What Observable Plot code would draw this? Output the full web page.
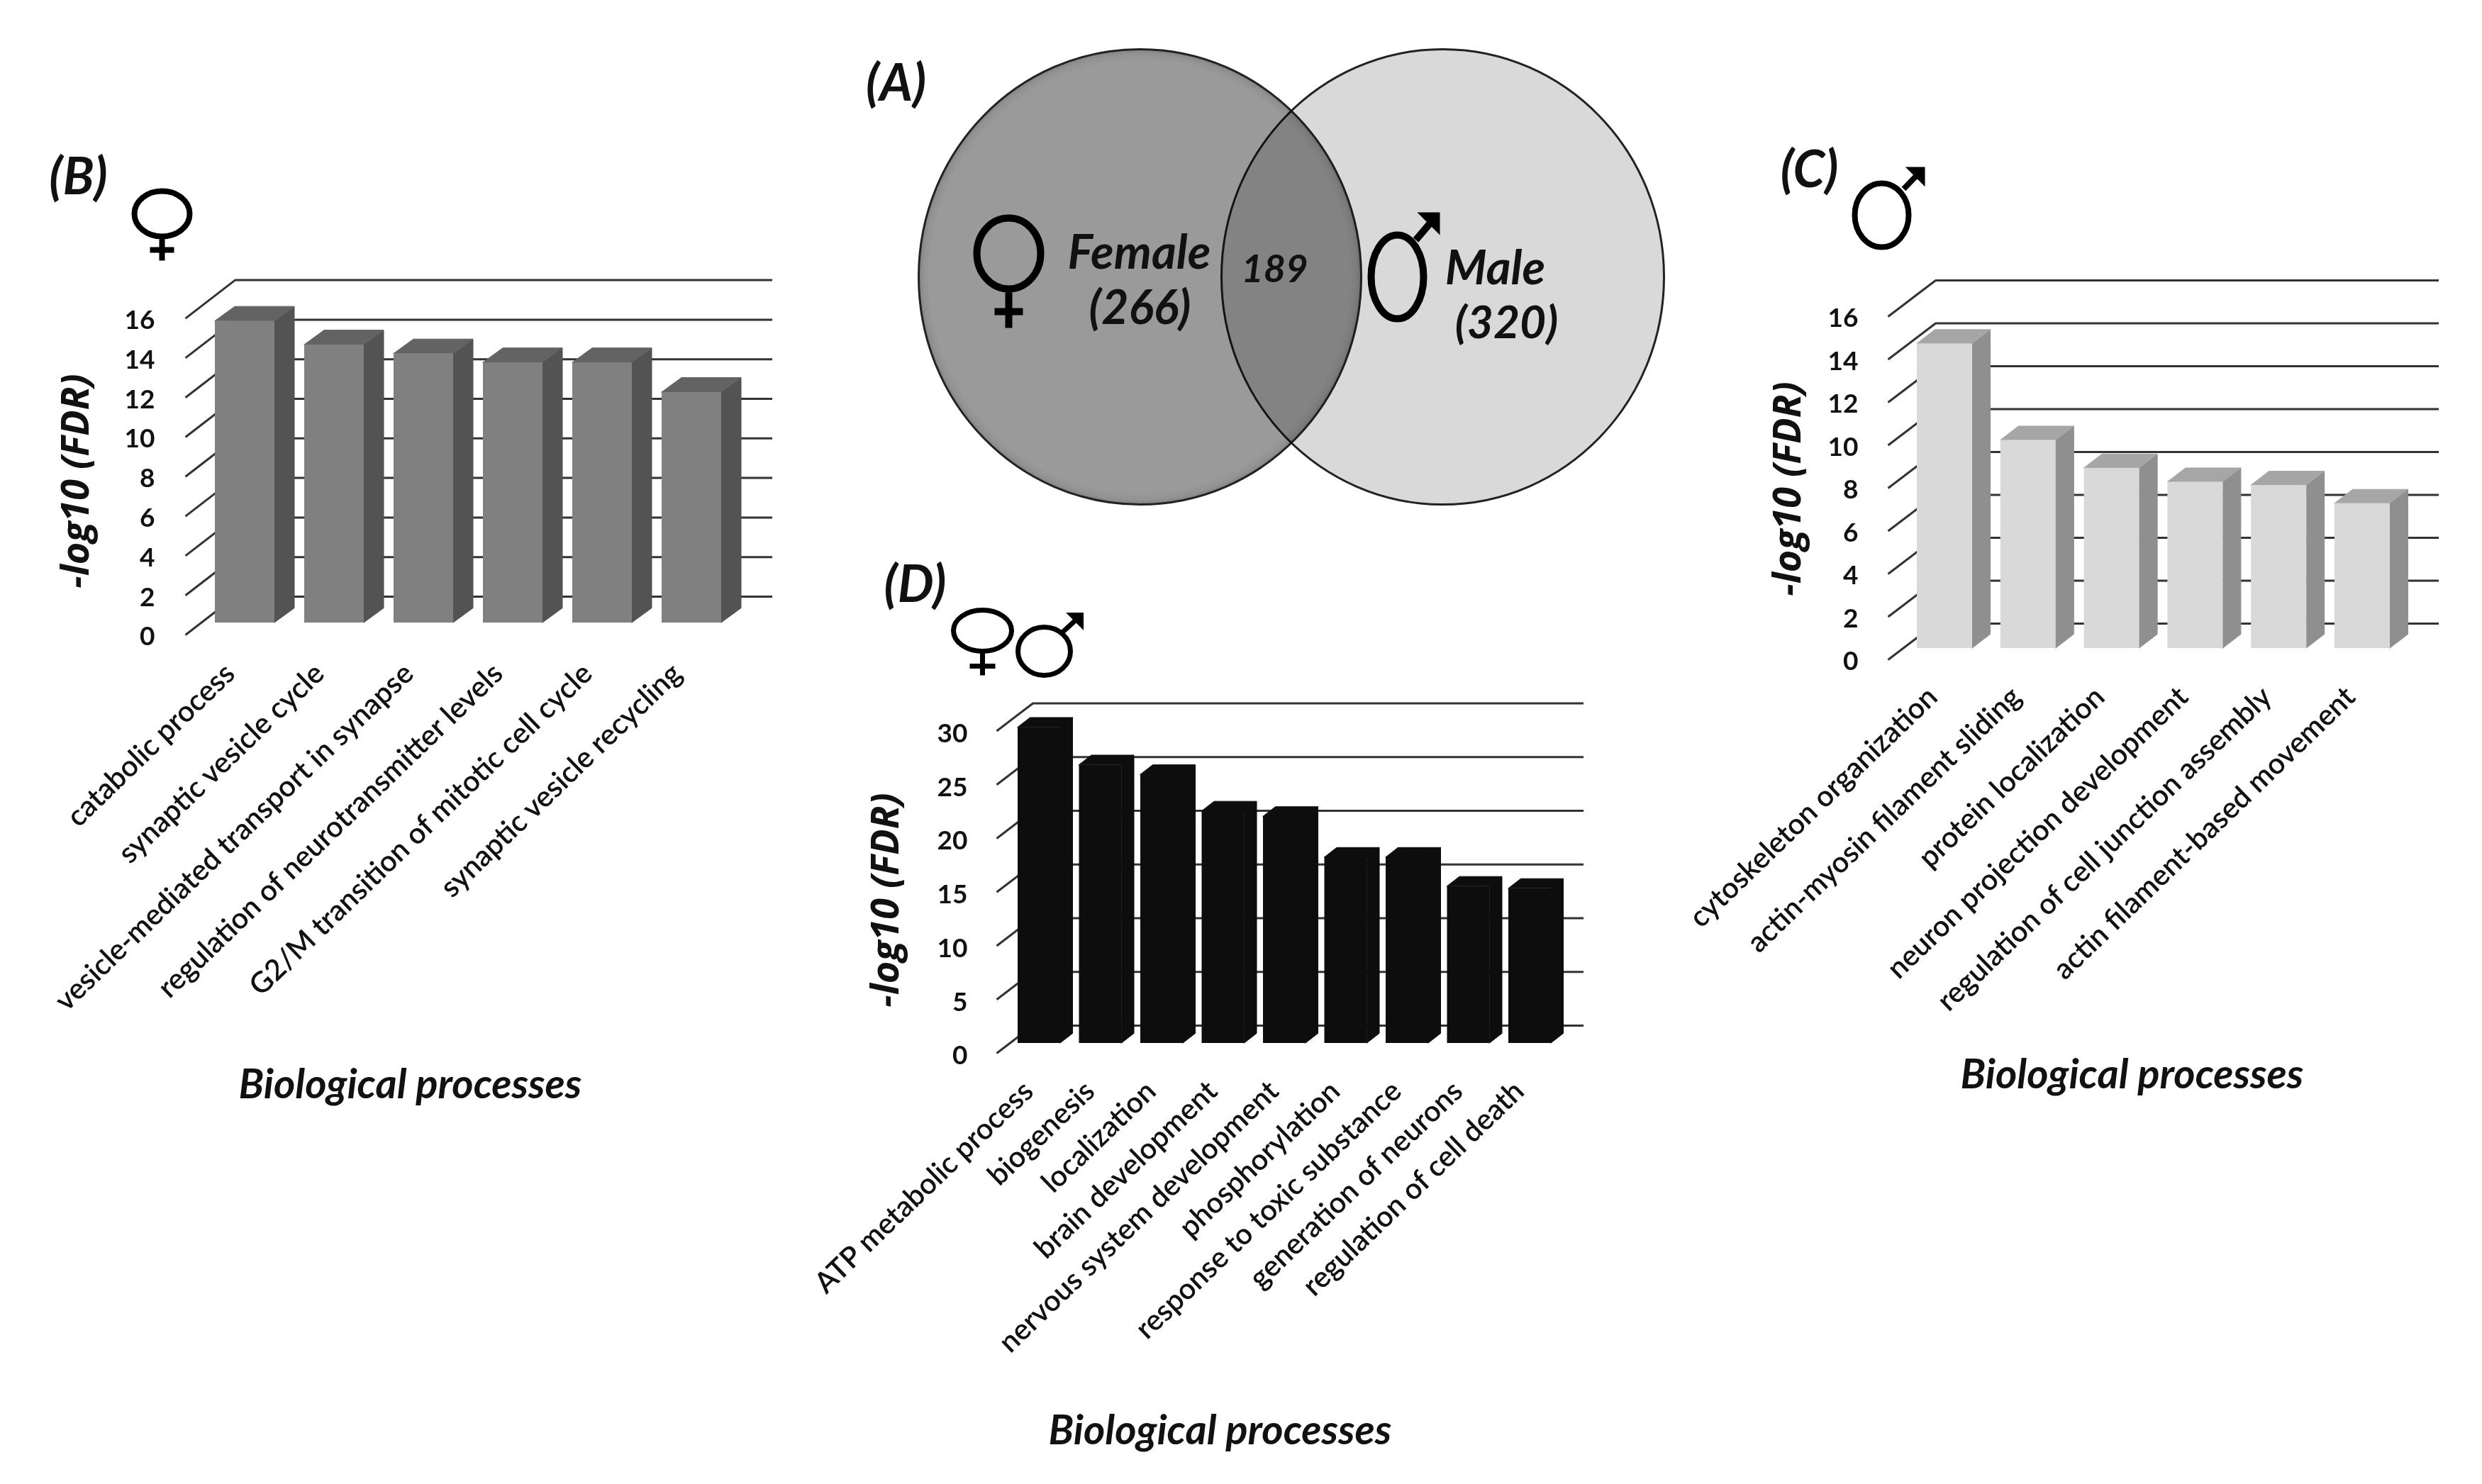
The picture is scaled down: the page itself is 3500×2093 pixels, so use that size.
<!DOCTYPE html>
<html>
<head>
<meta charset="utf-8">
<script src="https://cdn.jsdelivr.net/npm/d3@7"></script>
<script src="https://cdn.jsdelivr.net/npm/@observablehq/plot@0.6"></script>
<style>
  html, body { margin: 0; padding: 0; background: #fff; }
  #page { position: relative; width: 3500px; height: 2093px; overflow: hidden; }
  #page svg { position: absolute; background: transparent; overflow: visible; }
</style>
</head>
<body>
<div id="page"></div>
<script>
// ---- data ----
const femaleCategories = ["catabolic process", "synaptic vesicle cycle", "vesicle-mediated transport in synapse", "regulation of neurotransmitter levels", "G2/M transition of mitotic cell cycle", "synaptic vesicle recycling"];
const femaleValues = [15.25, 14.05, 13.6, 13.15, 13.15, 11.65];
const femaleTicks = [0, 2, 4, 6, 8, 10, 12, 14, 16];

const maleCategories = ["cytoskeleton organization", "actin-myosin filament sliding", "protein localization", "neuron projection development", "regulation of cell junction assembly", "actin filament-based movement"];
const maleValues = [14.2, 9.7, 8.4, 7.75, 7.6, 6.75];
const maleTicks = [0, 2, 4, 6, 8, 10, 12, 14, 16];

const sharedCategories = ["ATP metabolic process", "biogenesis", "localization", "brain development", "nervous system development", "phosphorylation", "response to toxic substance", "generation of neurons", "regulation of cell death"];
const sharedValues = [29.4, 25.9, 25.0, 21.6, 21.1, 17.3, 17.3, 14.6, 14.4];
const sharedTicks = [0, 5, 10, 15, 20, 25, 30];

const vennLabels = ["Female", "(266)", "189", "Male", "(320)"];

// ---- layout and style ----
const FONT = "Lato, 'Open Sans', sans-serif";
const TITLE_FONT = "'Open Sans', Lato, sans-serif";

const panels = [
  { categories: femaleCategories, values: femaleValues, ticks: femaleTicks,
    box: [40, 380, 1100, 1590], barX: 303, step: 126, barW: 84, sideW: 28, sideH: 20.4, base: 878, unit: 27.9,
    stubX: 261, frontZero: 895, wallX: 331, wallZero: 841, wallEnd: 1089, tickX: 218, tickDy: 3,
    labelDx: -21, labelY: 943, titleX: 107, titleY: 678, xTitleX: 578, xTitleY: 1530,
    front: "#808080", side: "#535353", top: "#636363" },
  { categories: maleCategories, values: maleValues, ticks: maleTicks,
    box: [2370, 380, 3460, 1580], barX: 2703, step: 117.8, barW: 78, sideW: 25.5, sideH: 19.6, base: 914, unit: 30.25,
    stubX: 2662, frontZero: 930, wallX: 2729, wallZero: 879, wallEnd: 3439, tickX: 2620, tickDy: 3,
    labelDx: -17, labelY: 976, titleX: 2521, titleY: 689, xTitleX: 3006, xTitleY: 1516,
    front: "#d9d9d9", side: "#8f8f8f", top: "#a6a6a6" },
  { categories: sharedCategories, values: sharedValues, ticks: sharedTicks,
    box: [1130, 980, 2250, 2070], barX: 1435, step: 86.5, barW: 60, sideW: 17.5, sideH: 13.6, base: 1471, unit: 15.15,
    stubX: 1405, frontZero: 1485, wallX: 1456, wallZero: 1446, wallEnd: 2233, tickX: 1364, tickDy: 4,
    labelDx: -15, labelY: 1532, titleX: 1249, titleY: 1269, xTitleX: 1720, xTitleY: 2018,
    front: "#0d0d0d", side: "#0d0d0d", top: "#0d0d0d" }
];

const panelTags = [
  { text: "(A)", x: 1263, y: 118 },
  { text: "(B)", x: 110, y: 250 },
  { text: "(C)", x: 2551, y: 240 },
  { text: "(D)", x: 1290, y: 825 }
];

const vennPositions = [
  { x: 1606, y: 357, size: 67 },
  { x: 1607, y: 435, size: 66 },
  { x: 1797, y: 380, size: 54 },
  { x: 2108, y: 379, size: 67 },
  { x: 2124, y: 456, size: 64 }
];

const femaleSigns = [
  { x: 228, y: 301, rx: 39, ry: 32, stem: 66, barY: 51, barHalf: 17, sw: 8 },
  { x: 1422, y: 357, rx: 45, ry: 50, stem: 105, barY: 82, barHalf: 20, sw: 10 },
  { x: 1385, y: 889, rx: 41, ry: 29, stem: 63, barY: 50, barHalf: 18, sw: 7 }
];
const maleSigns = [
  { x: 1970, y: 390, rx: 37, ry: 59, fromX: 26, fromY: -52, tipX: 55, tipY: -86, head: 15, sw: 10 },
  { x: 2653, y: 303, rx: 38, ry: 45, fromX: 31, fromY: -37, tipX: 57, tipY: -64, head: 14, sw: 8 },
  { x: 1472, y: 918, rx: 37, ry: 34, fromX: 26, fromY: -27, tipX: 52, tipY: -51, head: 13, sw: 7 }
];

// ---- symbols for Plot.dot ----
function ellipsePath(ctx, rx, ry) {
  const k = 0.5523;
  ctx.moveTo(rx, 0);
  ctx.bezierCurveTo(rx, k * ry, k * rx, ry, 0, ry);
  ctx.bezierCurveTo(-k * rx, ry, -rx, k * ry, -rx, 0);
  ctx.bezierCurveTo(-rx, -k * ry, -k * rx, -ry, 0, -ry);
  ctx.bezierCurveTo(k * rx, -ry, rx, -k * ry, rx, 0);
  ctx.closePath();
}
const ellipseSymbol = (rx, ry) => ({ draw(ctx) { ellipsePath(ctx, rx, ry); } });
const femaleSymbol = (s) => ({ draw(ctx) {
  ellipsePath(ctx, s.rx, s.ry);
  ctx.moveTo(0, s.ry); ctx.lineTo(0, s.stem);
  ctx.moveTo(-s.barHalf, s.barY); ctx.lineTo(s.barHalf, s.barY);
} });
const maleSymbol = (s) => ({ draw(ctx) {
  ellipsePath(ctx, s.rx, s.ry);
  ctx.moveTo(s.fromX, s.fromY); ctx.lineTo(s.tipX, s.tipY);
  ctx.moveTo(s.tipX, s.tipY); ctx.lineTo(s.tipX - s.head, s.tipY);
  ctx.lineTo(s.tipX, s.tipY + s.head); ctx.closePath();
} });

// ---- one 3D-look bar panel ----
function barPanel(p) {
  const [x0, y0, x1, y1] = p.box;
  const w = x1 - x0, h = y1 - y0;
  // data units: one bar step across, one -log10(FDR) unit up
  const X = (px) => (px - p.barX) / p.step;
  const Y = (py) => (p.base - py) / p.unit;
  const barW = p.barW / p.step, dX = p.sideW / p.step, dY = p.sideH / p.unit;

  const bars = p.categories.map((name, i) => ({ name, i, value: p.values[i] }));
  const sides = bars.flatMap((b) => [
    { i: b.i, x: b.i + barW, low: 0, high: b.value },
    { i: b.i, x: b.i + barW + dX, low: dY, high: b.value + dY }
  ]);
  const tops = bars.flatMap((b) => [
    { i: b.i, xa: b.i, xb: b.i + barW, y: b.value },
    { i: b.i, xa: b.i + dX, xb: b.i + barW + dX, y: b.value + dY }
  ]);
  const frontOffset = Y(p.frontZero), wallOffset = Y(p.wallZero);

  const textBase = { fontFamily: FONT, fill: "#111", lineAnchor: "middle" };
  const svg = Plot.plot({
    width: w, height: h, margin: 0,
    style: { background: "transparent", left: x0 + "px", top: y0 + "px" },
    x: { type: "linear", domain: [X(x0), X(x1)], range: [0, w], axis: null },
    y: { type: "linear", domain: [Y(y1), Y(y0)], range: [h, 0], axis: null },
    marks: [
      Plot.ruleY(p.ticks, { y: (t) => t + wallOffset, x1: X(p.wallX), x2: X(p.wallEnd), stroke: "#333", strokeWidth: 3 }),
      Plot.link(p.ticks, { x1: X(p.stubX), y1: (t) => t + frontOffset, x2: X(p.wallX), y2: (t) => t + wallOffset, stroke: "#333", strokeWidth: 3 }),
      Plot.area(sides, { x1: "x", x2: "x", y1: "low", y2: "high", z: "i", fill: p.side, stroke: p.side, strokeWidth: 1 }),
      Plot.area(tops, { x1: "xa", x2: "xb", y1: "y", y2: "y", z: "i", fill: p.top, stroke: p.top, strokeWidth: 1 }),
      Plot.rect(bars, { x1: "i", x2: (d) => d.i + barW, y1: 0, y2: "value", fill: p.front }),
      Plot.text(p.ticks, { ...textBase, x: X(p.tickX), y: (t) => t + frontOffset - p.tickDy / p.unit, text: (t) => String(t), textAnchor: "end", fontSize: 37, fontWeight: 700 }),
      Plot.text(bars, { ...textBase, x: (d) => d.i + barW / 2 + p.labelDx / p.step, y: Y(p.labelY), text: "name", textAnchor: "end", rotate: -44, fontSize: 41, fontWeight: 600 }),
      Plot.text(["-log10 (FDR)"], { ...textBase, fontFamily: TITLE_FONT, x: X(p.titleX), y: Y(p.titleY), text: (d) => d, rotate: -90, fontSize: 54, fontWeight: 700, fontStyle: "italic" }),
      Plot.text(["Biological processes"], { ...textBase, x: X(p.xTitleX), y: Y(p.xTitleY), text: (d) => d, fontSize: 58, fontWeight: 700, fontStyle: "italic" })
    ]
  });
  return svg;
}

// ---- Venn diagram, panel tags and sex symbols ----
const gradientDefs = () => {
  const defs = d3.create("svg:defs");
  const g = defs.append("radialGradient").attr("id", "femaleFill");
  [[0, "#9a9a9a"], [0.95, "#9a9a9a"], [0.98, "#929292"], [1, "#828282"]].forEach(([o, c]) =>
    g.append("stop").attr("offset", o).attr("stop-color", c));
  return defs.node();
};

const overlay = Plot.plot({
  width: 3500, height: 2093, margin: 0,
  style: { background: "transparent", left: "0px", top: "0px" },
  x: { type: "linear", domain: [0, 3500], range: [0, 3500], axis: null },
  y: { type: "linear", domain: [0, 2093], range: [0, 2093], axis: null },
  marks: [
    gradientDefs,
    Plot.dot([{ x: 2034, y: 390 }], { x: "x", y: "y", r: 300, symbol: ellipseSymbol(312, 321), fill: "#d9d9d9", stroke: "#222", strokeWidth: 3 }),
    Plot.dot([{ x: 1607, y: 390 }], { x: "x", y: "y", r: 300, symbol: ellipseSymbol(312, 321), fill: "url(#femaleFill)", stroke: "#222", strokeWidth: 3, mixBlendMode: "multiply" }),
    ...vennLabels.map((label, i) => Plot.text([label], { x: () => vennPositions[i].x, y: () => vennPositions[i].y, text: (d) => d, fontFamily: FONT, fontSize: vennPositions[i].size, fontWeight: 700, fontStyle: "italic", fill: "#111", lineAnchor: "middle" })),
    Plot.text(panelTags, { x: "x", y: "y", text: "text", fontFamily: FONT, fontSize: 72, fontWeight: 700, fontStyle: "italic", fill: "#111", lineAnchor: "middle" }),
    ...femaleSigns.map((s) => Plot.dot([s], { x: "x", y: "y", r: 40, symbol: femaleSymbol(s), fill: "none", stroke: "#000", strokeWidth: s.sw })),
    ...maleSigns.map((s) => Plot.dot([s], { x: "x", y: "y", r: 40, symbol: maleSymbol(s), fill: "none", stroke: "#000", strokeWidth: s.sw }))
  ]
});

const page = document.getElementById("page");
page.appendChild(overlay);
panels.forEach((p) => page.appendChild(barPanel(p)));
</script>
</body>
</html>
